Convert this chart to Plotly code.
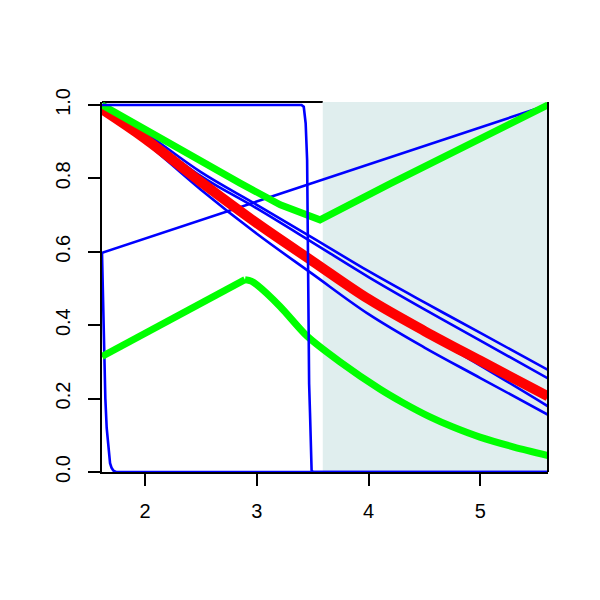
import plotly.graph_objects as go

# ---- data ----
x_range = [1.615, 5.605]
y_range = [0.0, 1.008]
shade_x = [3.59, 5.605]

dec_x = [1.615, 2.0, 2.5, 3.0, 3.5, 4.0, 4.5, 5.0, 5.605]
blue_a = [1.0, 0.925, 0.817, 0.728, 0.638, 0.547, 0.462, 0.379, 0.278]
blue_b = [1.0, 0.918, 0.806, 0.718, 0.625, 0.531, 0.443, 0.358, 0.255]
blue_c = [0.99, 0.905, 0.788, 0.676, 0.572, 0.468, 0.378, 0.290, 0.179]
blue_d = [0.995, 0.90, 0.769, 0.649, 0.539, 0.430, 0.339, 0.256, 0.156]
red_y = [0.988, 0.908, 0.790, 0.678, 0.574, 0.471, 0.384, 0.303, 0.206]

lin_x = [1.615, 5.605]
lin_y = [0.597, 1.0]

step_x = [1.615, 3.40, 3.42, 3.437, 3.45, 3.455, 3.46, 3.468, 3.476, 3.483, 3.49, 3.50, 5.605]
step_y = [1.0, 1.0, 0.995, 0.95, 0.85, 0.60, 0.35, 0.24, 0.16, 0.06, 0.005, 0.0, 0.0]

drop_x = [1.615, 1.62, 1.625, 1.635, 1.645, 1.657, 1.672, 1.687, 1.70, 1.716, 1.74, 5.605]
drop_y = [0.597, 0.52, 0.45, 0.30, 0.20, 0.12, 0.06, 0.024, 0.012, 0.004, 0.0, 0.0]

gup_x = [1.615, 2.0, 2.5, 2.85, 3.21, 3.45, 3.50, 3.565, 4.19, 5.605]
gup_y = [1.0, 0.933, 0.847, 0.787, 0.728, 0.698, 0.691, 0.687, 0.785, 1.0]

glo_up_x = [1.615, 2.894]
glo_up_y = [0.315, 0.524]
glo_dn_x = [2.894, 2.95, 3.0, 3.208, 3.45, 3.744, 4.10, 4.3, 4.549, 4.75, 4.996, 5.3, 5.605]
glo_dn_y = [0.524, 0.52, 0.51, 0.451, 0.370, 0.300, 0.226, 0.190, 0.150, 0.123, 0.095, 0.068, 0.045]

x_ticks = [2, 3, 4, 5]
y_ticks = [0.0, 0.2, 0.4, 0.6, 0.8, 1.0]
y_ticklabels = ["0.0", "0.2", "0.4", "0.6", "0.8", "1.0"]

BLUE = "#0000FF"
RED = "#FF0000"
GREEN = "#00FF00"
SHADE = "#E0EEEE"

BW = 2.6   # blue line width
RW = 10    # red line width
GW = 7     # green line width

fig = go.Figure()

for ys in [blue_a, blue_b, blue_c, blue_d]:
    fig.add_trace(go.Scatter(x=dec_x, y=ys, mode="lines",
                             line=dict(color=BLUE, width=BW, shape="spline"),
                             hoverinfo="skip"))
fig.add_trace(go.Scatter(x=lin_x, y=lin_y, mode="lines",
                         line=dict(color=BLUE, width=BW), hoverinfo="skip"))
fig.add_trace(go.Scatter(x=drop_x, y=drop_y, mode="lines",
                         line=dict(color=BLUE, width=BW), hoverinfo="skip"))
fig.add_trace(go.Scatter(x=dec_x, y=red_y, mode="lines",
                         line=dict(color=RED, width=RW, shape="spline"),
                         hoverinfo="skip"))
fig.add_trace(go.Scatter(x=gup_x, y=gup_y, mode="lines",
                         line=dict(color=GREEN, width=GW), hoverinfo="skip"))
fig.add_trace(go.Scatter(x=glo_up_x, y=glo_up_y, mode="lines",
                         line=dict(color=GREEN, width=GW), hoverinfo="skip"))
fig.add_trace(go.Scatter(x=glo_dn_x, y=glo_dn_y, mode="lines",
                         line=dict(color=GREEN, width=GW, shape="spline", smoothing=0.8),
                         hoverinfo="skip"))
fig.add_trace(go.Scatter(x=step_x, y=step_y, mode="lines",
                         line=dict(color=BLUE, width=BW), hoverinfo="skip"))

# shaded region
fig.add_shape(type="rect", xref="x", yref="y",
              x0=shade_x[0], x1=shade_x[1], y0=y_range[0], y1=y_range[1],
              fillcolor=SHADE, line=dict(width=0), layer="below")
# box: top segment (left of shading) and right edge
fig.add_shape(type="line", xref="x", yref="paper",
              x0=x_range[0], x1=shade_x[0], y0=1, y1=1,
              line=dict(color="black", width=2), layer="below")
fig.add_shape(type="line", xref="paper", yref="paper",
              x0=1, x1=1, y0=0, y1=1,
              line=dict(color="black", width=2), layer="above")

font = dict(family="Liberation Sans, Arial, sans-serif", size=20, color="black")

fig.update_layout(
    width=600, height=600, autosize=False,
    margin=dict(l=94, r=60, t=94, b=135.5),
    paper_bgcolor="white", plot_bgcolor="white",
    showlegend=False, font=font,
    xaxis=dict(range=x_range, tickvals=x_ticks, ticktext=[str(v) for v in x_ticks],
               showgrid=False, zeroline=False, showline=True, linecolor="black",
               linewidth=2, ticks="outside", ticklen=12, tickwidth=2,
               tickcolor="black", layer="below traces", tickfont=font,
               ticklabelstandoff=8),
    yaxis=dict(range=y_range, tickvals=y_ticks, ticktext=y_ticklabels,
               showgrid=False, zeroline=False, showline=True, linecolor="black",
               linewidth=2, ticks="outside", ticklen=12, tickwidth=2,
               tickcolor="black", layer="below traces", tickangle=-90,
               tickfont=font, ticklabelstandoff=10),
)

fig.write_html("out.html")
